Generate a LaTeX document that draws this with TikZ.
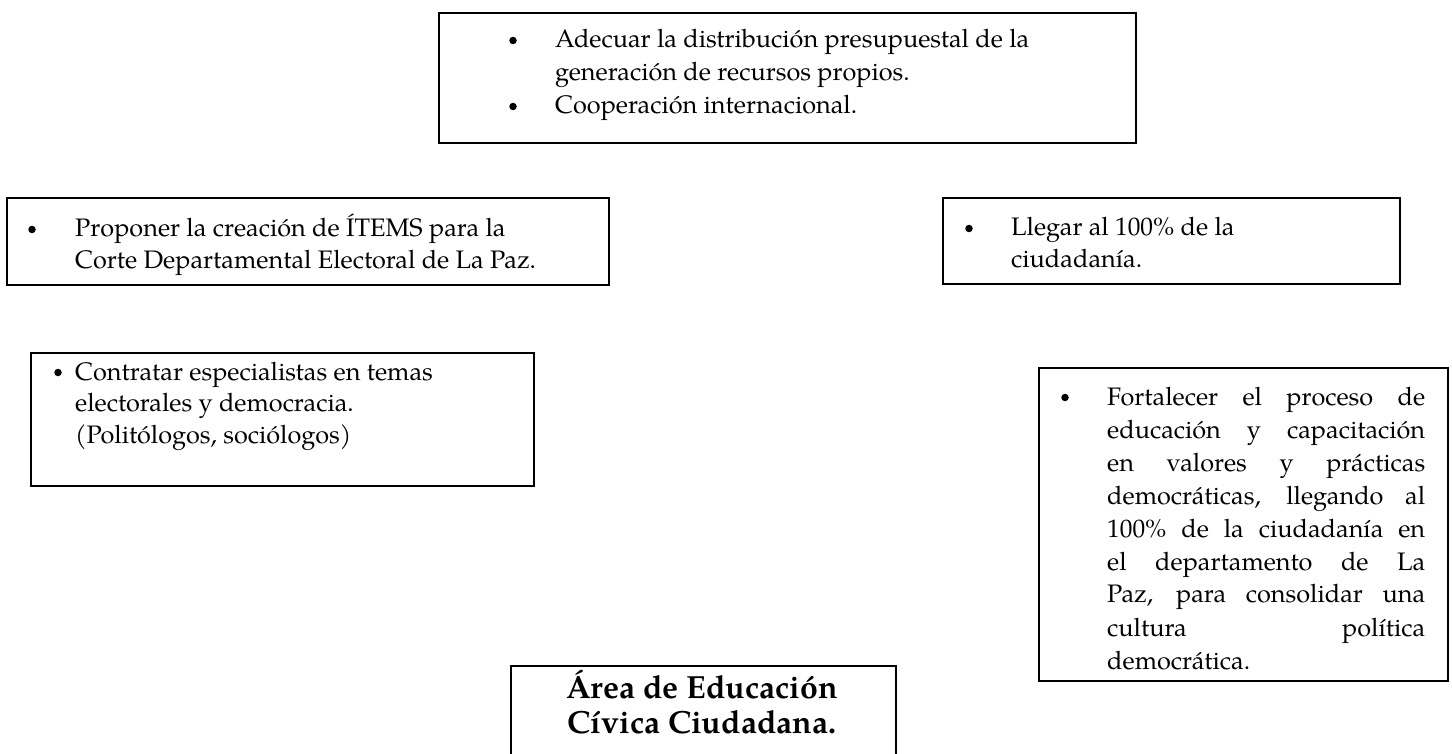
\documentclass[tikz,border=0pt]{standalone}
\usepackage{fontspec}
\setmainfont{TeX Gyre Pagella}
\tikzset{
  box/.style={draw=black, line width=1.8pt, rectangle, inner sep=0pt, anchor=north west},
  bul/.style={circle, fill=black, inner sep=0pt, minimum size=7.5pt},
  txt/.style={inner sep=0pt, anchor=base west},
}
\begin{document}
\begin{tikzpicture}[x=1pt,y=-1pt]
\useasboundingbox (0,0) rectangle (1452,754);
\clip (0,0) rectangle (1452,754);
% boxes
\node[box, minimum width=697pt, minimum height=130pt] (tbox) at (438,12) {};
\node[box, minimum width=602pt, minimum height=87pt] (pbox) at (6,197) {};
\node[box, minimum width=457pt, minimum height=86pt] (lbox) at (942,197) {};
\node[box, minimum width=503pt, minimum height=133pt] (cbox) at (30,352) {};
\node[box, minimum width=409pt, minimum height=313pt] (fbox) at (1038,367) {};
\node[box, minimum width=385pt, minimum height=120pt] (abox) at (510,665) {};
% top box
\node[bul] (tb1) at (513,40.5) {};
\node[bul] (tb2) at (513,106.5) {};
\node[txt] (ttxt) at (555,48) {\parbox[t]{570pt}{\fontsize{25.3}{33}\selectfont\raggedright
Adecuar la distribución presupuestal de la\\
generación de recursos propios.\\
Cooperación internacional.}};
% proponer
\node[bul] (pb1) at (32,229.5) {};
\node[txt] (ptxt) at (75,237) {\parbox[t]{530pt}{\fontsize{25.3}{32}\selectfont\raggedright
Proponer la creación de ÍTEMS para la\\
Corte Departamental Electoral de La Paz.}};
% llegar
\node[bul] (lb1) at (969,228.5) {};
\node[txt] (ltxt) at (1011,236) {\parbox[t]{380pt}{\fontsize{25.3}{32}\selectfont\raggedright
Llegar al 100\% de la\\
ciudadanía.}};
% contratar
\node[bul] (cb1) at (58,372.5) {};
\node[txt] (ctxt) at (75,380) {\parbox[t]{450pt}{\fontsize{25.3}{31.5}\selectfont\raggedright
Contratar especialistas en temas\\
electorales y democracia.\\
(Politólogos, sociólogos)}};
% fortalecer
\node[bul] (fb1) at (1065,397.5) {};
\node[txt] (ftxt) at (1107,405) {\parbox[t]{318pt}{\fontsize{25.3}{33}\selectfont\hyphenpenalty=10000\hbadness=10000
Fortalecer el proceso de\linebreak
educación y capacitación\linebreak
en valores y prácticas\linebreak
democráticas, llegando al\linebreak
100\% de la ciudadanía en\linebreak
el departamento de La\linebreak
Paz, para consolidar una\linebreak
cultura política\linebreak
democrática.}};
% area
\node[inner sep=0pt, anchor=base] (atxt) at (702,698) {\parbox[t]{384pt}{\fontsize{32}{35}\selectfont\bfseries\centering
Área de Educación\\
Cívica Ciudadana.}};
\end{tikzpicture}
\end{document}
